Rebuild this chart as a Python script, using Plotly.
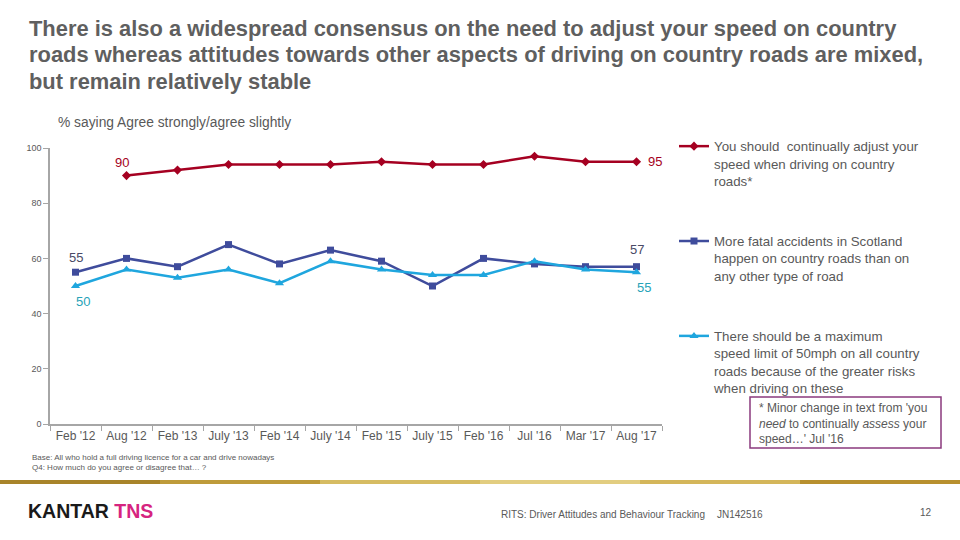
import plotly.graph_objects as go

categories = ["Feb '12", "Aug '12", "Feb '13", "July '13", "Feb '14", "July '14",
              "Feb '15", "July '15", "Feb '16", "Jul '16", "Mar '17", "Aug '17"]
adjust_speed = [None, 90, 92, 94, 94, 94, 95, 94, 94, 97, 95, 95]
fatal_accidents = [55, 60, 57, 65, 58, 63, 59, 50, 60, 58, 57, 57]
speed_limit_50 = [50, 56, 53, 56, 51, 59, 56, 54, 54, 59, 56, 55]

names = [
    "You should  continually adjust your<br>speed when driving on country<br>roads*",
    "More fatal accidents in Scotland<br>happen on country roads than on<br>any other type of road",
    "There should be a maximum<br>speed limit of 50mph on all country<br>roads because of the greater risks<br>when driving on these",
]

RED = "#A50021"
DARK = "#3F4C9C"
LIGHT = "#1FA6DE"
GREY = "#595959"
FONT = "Liberation Sans, Arial, sans-serif"

# plot area in pixels
L, R, T, B = 50, 662, 148, 424
def px(x):
    return (x - L) / (R - L)
def py(y):
    return (B - y) / (B - T)

fig = go.Figure()
fig.add_trace(go.Scatter(x=categories, y=adjust_speed, name=names[0], mode="lines+markers",
                         line=dict(color=RED, width=2.5), marker=dict(symbol="diamond", size=7, color=RED),
                         legendgroup="a", connectgaps=False))
fig.add_trace(go.Scatter(x=categories, y=fatal_accidents, name=names[1], mode="lines+markers",
                         line=dict(color=DARK, width=2.5), marker=dict(symbol="square", size=7, color=DARK),
                         legendgroup="b"))
fig.add_trace(go.Scatter(x=categories, y=speed_limit_50, name=names[2], mode="lines+markers",
                         line=dict(color=LIGHT, width=2.5), marker=dict(symbol="triangle-up", size=8, color=LIGHT),
                         legendgroup="c"))

# data labels
labels = [
    (categories[1], adjust_speed[1], RED, -5, 13),
    (categories[-1], adjust_speed[-1], RED, 18, 0),
    (categories[0], fatal_accidents[0], "#4A4A66", 0, 15),
    (categories[-1], fatal_accidents[-1], "#4A4A66", 0, 17),
    (categories[0], speed_limit_50[0], "#27A3B8", 7, -15),
    (categories[-1], speed_limit_50[-1], "#27A3B8", 7, -15),
]
for x, y, c, xs, ys in labels:
    fig.add_annotation(x=x, y=y, xref="x", yref="y", text=str(y), showarrow=False,
                       xshift=xs, yshift=ys, font=dict(size=13, color=c, family=FONT))

def txt(x, y, text, size, color=GREY, xanchor="left", yanchor="middle", **kw):
    fig.add_annotation(x=px(x), y=py(y), xref="paper", yref="paper", text=text,
                       showarrow=False, xanchor=xanchor, yanchor=yanchor, align="left",
                       font=dict(size=size, color=color, family=FONT), **kw)

fig.update_layout(
    width=960, height=540,
    margin=dict(l=L, r=960 - R, t=T, b=540 - B),
    paper_bgcolor="white", plot_bgcolor="white",
    font=dict(family=FONT, color=GREY),
    showlegend=True,
    legend=dict(x=px(674), y=py(131), xanchor="left", yanchor="top",
                xref="paper", yref="paper", maxheight=480,
                font=dict(size=13.3, color=GREY, family=FONT), valign="top",
                traceorder="grouped", tracegroupgap=40, itemclick=False,
                bgcolor="rgba(0,0,0,0)"),
    xaxis=dict(type="category", showgrid=False, showline=True, linecolor="#A6A6A6", linewidth=1.5,
               ticks="outside", tickson="boundaries", ticklen=5, tickcolor="#A6A6A6",
               tickfont=dict(size=12, color=GREY, family=FONT), range=[-0.5, 11.5]),
    yaxis=dict(range=[0, 100], tickvals=[0, 20, 40, 60, 80, 100], showgrid=False, zeroline=False,
               showline=True, linecolor="#A6A6A6", linewidth=1.5, ticks="outside", ticklen=5,
               tickcolor="#A6A6A6", tickfont=dict(size=9, color=GREY, family=FONT)),
)

# title (three lines)
title_lines = [
    "There is also a widespread consensus on the need to adjust your speed on country",
    "roads whereas attitudes towards other aspects of driving on country roads are mixed,",
    "but remain relatively stable",
]
for i, line in enumerate(title_lines):
    txt(27, 28 + i * 26.5, "<b>" + line + "</b>", 21.9, color="#5F5F5F")

txt(56, 122, "% saying Agree strongly/agree slightly", 13.8)

# footnote box
fig.add_shape(type="rect", xref="paper", yref="paper",
              x0=px(750), x1=px(941), y0=py(448), y1=py(397),
              line=dict(color="#8A3A7E", width=1.5), fillcolor="white")
fig.add_annotation(x=px(757), y=py(399), xref="paper", yref="paper",
                   text="* Minor change in text from 'you<br><i>need</i> to continually <i>assess</i> your<br>speed…' Jul '16",
                   showarrow=False, xanchor="left", yanchor="top", align="left",
                   font=dict(size=12, color=GREY, family=FONT))

# base text
txt(30, 457, "Base: All who hold a full driving licence for a car and drive nowadays", 8)
txt(30, 467, "Q4: How much do you agree or disagree that… ?", 8)

# gold rule
golds = ["#A8842A", "#BE9B3A", "#D6BC63", "#E2CD80", "#D4B65A", "#B8902E"]
seg = 960 / len(golds)
for i, g in enumerate(golds):
    fig.add_shape(type="rect", xref="paper", yref="paper",
                  x0=px(i * seg), x1=px((i + 1) * seg), y0=py(484), y1=py(480),
                  line=dict(width=0), fillcolor=g)

# footer
txt(26, 511, "<b><span style='color:#1A1A1A'>KANTAR</span> <span style='color:#D6247F'>TNS</span></b>", 19.5, color="#1A1A1A")
txt(499, 514, "RITS: Driver Attitudes and Behaviour Tracking", 10)
txt(715, 514, "JN142516", 10)
txt(926, 512, "12", 10, xanchor="center")

fig.write_html("out.html", config={"displayModeBar": False},
               post_script="document.body.style.margin='0';document.body.style.overflow='hidden';")
